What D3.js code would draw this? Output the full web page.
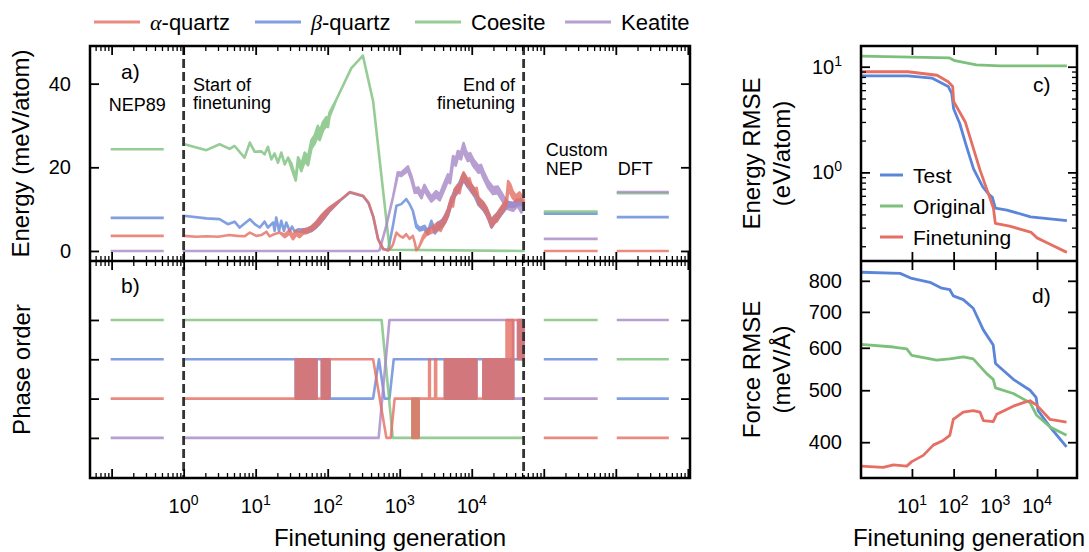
<!DOCTYPE html>
<html>
<head>
<meta charset="utf-8">
<title>NEP finetuning</title>
<style>
  body { margin: 0; background: #fff; }
  text { font-family: 'Liberation Sans', Arial, sans-serif; fill: #000; }
</style>
</head>
<body>
<svg width="1089" height="552"></svg>
<script src="https://d3js.org/d3.v7.min.js"></script>
<script>
// ---------------- data ----------------
const phases = ['-quartz', '-quartz', 'Coesite', 'Keatite'];
const phaseGreek = ['\u03b1', '\u03b2', '', ''];
const phaseColors = ['#e66f63', '#6388da', '#7cc07c', '#a788c7'];

// energy during finetuning: [generation, meV/atom, half-width of noise band]
const alphaEnergy = [[1,3.6,0],[1.5,3.4,0],[2.1,3.5,0],[3,3.4,0],[4.3,3.8,0],[5.5,3.6,0],[7,3.5,0],[8.3,4.4,0],[10.2,3.6,0],[12,3.8,0],[14.1,4.6,0],[15.6,3.5,0],[18,4.0,0],[21.5,4.4,0],[25.3,3.6,0.3],[29.7,4.6,0.4],[33,3.2,0.4],[36.6,4.4,0.5],[40.8,3.8,0.5],[45.4,4.6,0.5],[52,4.8,0.5],[60,5.4,0.5],[70,6.4,0.6],[80,7.6,0.7],[92,8.8,0.6],[106,10.0,0.4],[150,12.2,0],[203,14.1,0],[310,13.2,0],[370,11.5,0],[430,8.2,0],[500,2.9,0],[590,0.5,0],[690,0.1,0],[760,0.8,0],[805,1.5,0],[900,4.4,0],[1000,3.6,0],[1110,3.2,0],[1230,4.0,0],[1370,2.9,0],[1520,3.6,0],[1620,2.0,0],[1700,0.2,0],[1800,0.6,0],[1900,1.3,0],[2100,3.2,0.3],[2360,4.4,0.5],[2650,4.8,0.6],[2930,5.2,0.7],[3400,6.0,0.8],[3700,5.6,0.8],[3960,6.8,0.8],[4300,7.6,0.8],[4660,9.2,0.8],[5200,12.0,0.8],[5500,11.4,0.8],[5800,14.0,0.8],[6400,15.0,0.8],[6800,14.6,0.8],[7100,16.5,0.8],[7700,18.0,0.8],[8300,17.0,0.8],[8800,16.3,0.8],[9300,16.6,0.8],[9800,15.2,0.8],[11000,14.0,0.8],[11700,14.3,0.8],[12400,12.0,0.8],[14500,10.8,0.8],[16000,9.6,0.8],[17500,8.0,0.8],[18800,6.5,0.8],[20700,7.6,0.8],[22500,7.9,0.8],[24500,9.2,0.8],[28500,10.8,0.8],[30500,12.0,0.8],[32000,15.5,1.2],[34000,15.0,1.0],[37000,13.5,0.8],[41000,12.5,0.7],[46000,13.2,0.8],[52500,11.8,0.5]];
const betaEnergy = [[1,8.4,0],[2.07,7.8,0],[3.16,7.6,0],[4.1,6.4,0],[5.1,7.0,0],[6.0,5.6,0],[8.3,7.6,0],[9.7,6.4,0],[11.4,5.6,0],[13.3,7.0,0],[14.8,5.6,0],[17.5,6.8,0],[18.3,4.8,0],[19.3,8.0,0],[21.1,4.8,0],[22.7,7.2,0],[24.7,4.8,0],[26.6,6.8,0],[29.7,4.8,0],[32,5.8,0],[34.7,4.6,0],[38.8,5.0,0.2],[45.4,4.8,0.3],[52,4.9,0.4],[60,5.3,0.5],[70,6.3,0.6],[80,7.5,0.7],[92,8.7,0.6],[106,9.9,0.4],[150,12.1,0],[203,14.0,0],[310,13.1,0],[370,11.4,0],[430,8.1,0],[500,2.8,0],[590,0.4,0],[690,0.2,0],[805,6.0,0],[900,10.8,0],[1050,11.2,0],[1230,12.4,0],[1370,11.2,0],[1520,9.6,0],[1700,6.0,0.3],[1900,5.2,0.3],[2200,5.6,0.4],[2470,4.4,0.4],[2750,6.8,0.4],[3080,4.6,0.4],[3400,5.9,0.8],[3960,6.7,0.8],[4660,9.0,0.8],[5200,11.8,0.8],[5800,13.8,0.8],[6400,14.8,0.8],[7100,16.3,0.8],[7700,17.7,0.8],[8300,16.8,0.8],[8800,16.1,0.8],[9800,15.0,0.8],[11000,13.8,0.8],[12400,11.8,0.8],[14500,10.6,0.8],[16000,9.4,0.8],[17500,7.9,0.8],[18800,6.4,0.8],[20700,7.5,0.8],[24500,9.0,0.8],[28500,10.5,0.8],[32000,11.2,0.5],[37000,11.0,0.5],[44500,11.5,0.5],[48000,11.8,0.6],[52500,11.2,0.5]];
const coesiteEnergy = [[1,25.6,0],[2.07,24.1,0],[3.16,25.5,0],[4.35,24.4,0],[5.1,25.1,0],[7.0,22.3,0],[8.3,25.9,0],[9.7,23.7,0],[12,23.8,0],[13.3,23.1,0],[14.8,24.9,0],[16.5,21.9,0],[18.3,23.3,0],[20.4,21.1,0],[22.7,23.5,0],[25.3,20.7,0],[28.2,22.3,0],[31.4,20.3,0.5],[36,17.1,0.3],[38.8,21.9,0.5],[43,19.9,0.8],[48,22.5,1],[53.4,21.5,1],[59.5,25.5,1],[66,26.7,1],[73,28.7,1.2],[77.4,27.5,1],[86,29.8,1],[95.7,31,1],[101,30.4,0.8],[106,32.6,0.5],[132,36.2,0],[213,43.7,0],[308,46.7,0],[427,35.8,0],[725,0.3,0],[52500,0,0]];
const keatiteEnergy = [[1,0,0],[500,0,0],[525,0.2,0],[650,6.0,0],[810,13,0],[940,18.5,0.3],[1050,18.3,0.4],[1300,19.7,0.5],[1450,17.5,0.5],[1620,14.4,0.5],[1800,14.6,0.6],[2000,13.2,0.6],[2200,15.2,0.6],[2470,13.6,0.6],[2750,12.4,0.6],[3200,13.6,0.7],[3600,12.8,0.7],[4100,15.2,0.8],[4660,17.5,0.8],[5000,17.0,0.8],[5500,21.9,0.8],[6000,21.2,0.8],[6400,23.1,0.8],[7100,22.7,0.8],[7700,25.0,0.8],[8200,23.4,0.8],[8800,22.3,0.8],[9500,22.6,0.8],[10500,21.1,0.8],[12400,19.5,0.8],[13400,19.8,0.8],[14500,18.3,0.8],[16800,16.0,0.8],[19700,14.4,0.8],[23000,14.6,0.8],[27300,12.4,0.8],[32000,10.8,0.8],[37500,10.4,0.8],[43000,11.6,0.8],[49000,10.0,0.8],[52500,10.8,0.5]];

// phase order (energy rank) during finetuning: [generation, low rank, high rank]
const alphaRank = [[1,1,1],[36,1,1],[36,1,2],[47,1,2],[47,1,1],[49,1,1],[49,1,2],[70,1,2],[70,1,1],[83,1,1],[83,1,2],[106,1,2],[106,2,2],[427,2,2],[653,0,0],[750,0,0],[850,1,1],[1500,1,1],[1500,0,1],[1830,0,1],[1830,1,1],[2560,1,1],[2560,2,2],[2620,2,2],[2620,1,1],[3100,1,1],[3100,2,2],[3200,2,2],[3200,1,1],[4240,1,1],[4240,1,2],[4950,1,2],[4950,1,1],[5190,1,1],[5190,1,2],[11600,1,2],[11600,1,1],[14500,1,1],[14500,1,2],[30400,1,2],[30400,1,3],[37500,1,3],[37500,3,3],[44000,3,3],[44000,2,3],[52500,2,3]];
const betaRank = [[1,2,2],[36,2,2],[36,1,2],[47,1,2],[47,2,2],[49,2,2],[49,1,2],[70,1,2],[70,2,2],[83,2,2],[83,1,2],[106,1,2],[106,1,1],[427,1,1],[515,2,2],[615,1,1],[720,1,1],[825,2,2],[4240,2,2],[4240,1,2],[4950,1,2],[4950,2,2],[5190,2,2],[5190,1,2],[11600,1,2],[11600,2,2],[14500,2,2],[14500,1,2],[37500,1,2],[37500,2,2],[44000,2,2],[44000,2,3],[52500,2,3]];
const coesiteRank = [[1,3,3],[560,3,3],[800,0,0],[1500,0,0],[1500,0,1],[1830,0,1],[1830,0,0],[52500,0,0]];
const keatiteRank = [[1,0,0],[510,0,0],[720,3,3],[37500,3,3],[37500,1,1],[52500,1,1]];

// reference models, placed on the generation axis: [from, to]
const refModels = ['NEP89', 'Custom NEP', 'DFT'];
const refGen = [[0.097, 0.53], [1.0e5, 5.6e5], [1.03e6, 5.45e6]];
// per phase: alpha, beta, coesite, keatite
const nep89Energy = [3.6, 7.9, 24.3, 0];
const customEnergy = [0, 8.9, 9.4, 2.9];
const dftEnergy = [0, 8.1, 13.8, 14.1];
const nep89Rank = [1, 2, 3, 0];
const customRank = [0, 2, 3, 1];
const dftRank = [0, 1, 2, 3];

const finetuneStart = 1, finetuneEnd = 52500;

// RMSE panels: [generation, value]
const rmseSeries = ['Test', 'Original', 'Finetuning'];
const rmseColors = ['#5a85d8', '#7cc07c', '#e66f63'];
const testEnergyRmse = [[0.6,8.2],[8,8.2],[30,7.8],[74,6.5],[90,5.6],[100,4.0],[140,2.9],[200,1.8],[300,1.08],[500,0.73],[700,0.62],[850,0.58],[1000,0.46],[1900,0.44],[7000,0.38],[52000,0.35]];
const originalEnergyRmse = [[0.6,12.6],[80,12.1],[107,11.4],[350,10.4],[1300,10.2],[52000,10.2]];
const finetuneEnergyRmse = [[0.6,8.96],[8,8.96],[40,8.3],[74,7.2],[95,6.5],[100,4.7],[190,3.0],[430,1.05],[900,0.46],[1000,0.33],[2200,0.31],[7300,0.27],[10000,0.24],[20000,0.21],[52000,0.175]];
const testForceRmse = [[0.6,830],[5.2,826],[9.9,808],[27,795],[52,775],[81,770],[98,750],[170,738],[295,711],[515,648],[890,607],[1010,561],[2700,524],[6800,500],[9500,485],[10600,458],[20600,427],[51000,392]];
const originalForceRmse = [[0.6,609],[3.6,602],[7.5,597],[9.9,581],[39,569],[81,572],[170,577],[295,572],[620,537],[890,524],[1010,505],[2700,493],[6800,474],[9800,449],[20600,427],[51000,412]];
const finetuneForceRmse = [[0.6,361],[2.05,359],[3.6,363],[7.5,361],[9.9,368],[18.7,378],[32.5,395],[56,403],[81,412],[98,441],[170,455],[295,458],[430,455],[515,439],[890,437],[1080,451],[2700,467],[4700,474],[6800,478],[9800,469],[20600,441],[51000,436]];

// ticks
const energyTicks = [0, 20, 40];
const rankTicks = [0, 1, 2, 3];
const genLabelExp = [0, 1, 2, 3, 4];
const rmseGenExp = [1, 2, 3, 4];
const energyRmseExp = [0, 1];
const forceTicks = [400, 500, 600, 700, 800];

// ---------------- layout ----------------
const svg = d3.select('svg');
const L = { x0: 90, x1: 690, top: 46, mid: 261, bot: 478 };
const R = { x0: 861, x1: 1077, top: 46, mid: 261, bot: 478 };

const x = d3.scaleLog().domain([Math.pow(10, -1.3), Math.pow(10, 7.03)]).range([L.x0, L.x1]);
const ya = d3.scaleLinear().domain([-2.4, 49]).range([L.mid, L.top]);
const yb = d3.scaleLinear().domain([-1.02, 4.5]).range([L.bot, L.mid]);
const xc = d3.scaleLog().domain([0.6, 91000]).range([R.x0, R.x1]);
const yc = d3.scaleLog().domain([0.145, 15.7]).range([R.mid, R.top]);
const yd = d3.scaleLog().domain([343, 871]).range([R.bot, R.mid]);

function decadeTicks(scale, major) {
  const [a, b] = scale.domain(), out = [];
  for (let e = Math.floor(Math.log10(a)); e <= Math.ceil(Math.log10(b)); e++) {
    for (let k = 1; k <= 9; k++) {
      const v = k * Math.pow(10, e);
      if (v >= a && v <= b && (k === 1) === major) out.push(v);
    }
  }
  return out;
}

function tickAxis(axisFn, scale, values, size, transform, width) {
  const g = svg.append('g').attr('transform', transform)
    .call(axisFn(scale).tickValues(values).tickSize(-size).tickFormat(''));
  g.select('.domain').remove();
  g.selectAll('.tick line').attr('stroke', '#000').attr('stroke-width', width);
}

function powText(sel, exp) {
  sel.text('10');
  sel.append('tspan').attr('dy', -8).attr('font-size', 14).text(exp);
}

// ---------------- panels a, b: energies and phase order ----------------
const bandA = d3.area().x(d => x(d[0])).y0(d => ya(d[1] - d[2])).y1(d => ya(d[1] + d[2]));
const bandB = d3.area().x(d => x(d[0])).y0(d => yb(d[1])).y1(d => yb(d[2]));

const energySets = [alphaEnergy, betaEnergy, coesiteEnergy, keatiteEnergy];
const rankSets = [alphaRank, betaRank, coesiteRank, keatiteRank];
const drawOrder = [1, 2, 3, 0];

const refEnergy = [nep89Energy, customEnergy, dftEnergy];
const refRank = [nep89Rank, customRank, dftRank];

drawOrder.forEach(p => {
  svg.append('path').datum(energySets[p]).attr('d', bandA)
    .attr('fill', phaseColors[p]).attr('stroke', phaseColors[p])
    .attr('stroke-width', 2.6).attr('stroke-linejoin', 'round').attr('opacity', 0.8);
  svg.append('path').datum(rankSets[p]).attr('d', bandB)
    .attr('fill', phaseColors[p]).attr('stroke', phaseColors[p])
    .attr('stroke-width', 2.6).attr('stroke-linejoin', 'round').attr('opacity', 0.8);
  refGen.forEach((span, m) => {
    svg.append('line')
      .attr('x1', x(span[0])).attr('x2', x(span[1]))
      .attr('y1', ya(refEnergy[m][p])).attr('y2', ya(refEnergy[m][p]))
      .attr('stroke', phaseColors[p]).attr('stroke-width', 2.6).attr('opacity', 0.8);
    svg.append('line')
      .attr('x1', x(span[0])).attr('x2', x(span[1]))
      .attr('y1', yb(refRank[m][p])).attr('y2', yb(refRank[m][p]))
      .attr('stroke', phaseColors[p]).attr('stroke-width', 2.6).attr('opacity', 0.8);
  });
});

// finetuning start / end markers
[finetuneStart, finetuneEnd].forEach(g => {
  svg.append('line').attr('x1', x(g)).attr('x2', x(g)).attr('y1', L.top).attr('y2', L.bot)
    .attr('stroke', '#333').attr('stroke-width', 2.8).attr('stroke-dasharray', '9,4');
});

// left frame + ticks
svg.append('rect').attr('x', L.x0).attr('y', L.top).attr('width', L.x1 - L.x0).attr('height', L.bot - L.top)
  .attr('fill', 'none').attr('stroke', '#000').attr('stroke-width', 2.5);
svg.append('line').attr('x1', L.x0).attr('x2', L.x1).attr('y1', L.mid).attr('y2', L.mid)
  .attr('stroke', '#000').attr('stroke-width', 2.5);

const xMaj = decadeTicks(x, true), xMin = decadeTicks(x, false);
[[d3.axisTop, L.top], [d3.axisBottom, L.mid], [d3.axisTop, L.mid], [d3.axisBottom, L.bot]].forEach(([fn, y]) => {
  tickAxis(fn, x, xMaj, 9, `translate(0,${y})`, 1.8);
  tickAxis(fn, x, xMin, 5, `translate(0,${y})`, 1.3);
});
tickAxis(d3.axisLeft, ya, energyTicks, 9, `translate(${L.x0},0)`, 1.8);
tickAxis(d3.axisRight, ya, energyTicks, 9, `translate(${L.x1},0)`, 1.8);
tickAxis(d3.axisLeft, yb, rankTicks, 9, `translate(${L.x0},0)`, 1.8);
tickAxis(d3.axisRight, yb, rankTicks, 9, `translate(${L.x1},0)`, 1.8);

svg.selectAll('.ya-label').data(energyTicks).enter().append('text')
  .attr('x', L.x0 - 19).attr('y', d => ya(d)).attr('dy', '0.35em')
  .attr('text-anchor', 'end').attr('font-size', 20).text(d => d);

svg.selectAll('.xa-label').data(genLabelExp).enter().append('text')
  .attr('x', d => x(Math.pow(10, d))).attr('y', 513)
  .attr('text-anchor', 'middle').attr('font-size', 20)
  .each(function(d) { powText(d3.select(this), d); });

// annotations
function note(xp, yp, str, anchor, size) {
  svg.append('text').attr('x', xp).attr('y', yp).attr('text-anchor', anchor || 'start')
    .attr('font-size', size || 18).text(str);
}
note(121, 79, 'a)', 'start', 21);
note(121, 293, 'b)', 'start', 21);
note(x(Math.sqrt(refGen[0][0] * refGen[0][1])), 111, refModels[0], 'middle');
note(193, 91, 'Start of');
note(193, 109, 'finetuning');
note(515, 91, 'End of', 'end');
note(515, 109, 'finetuning', 'end');
note(x(refGen[1][0]) + 2, 156, refModels[1].split(' ')[0]);
note(x(refGen[1][0]) + 2, 175, refModels[1].split(' ')[1]);
note(x(refGen[2][0]) + 1, 175, refModels[2]);

svg.append('text').attr('transform', `translate(29,${(L.top + L.mid) / 2}) rotate(-90)`)
  .attr('text-anchor', 'middle').attr('font-size', 24).text('Energy (meV/atom)');
svg.append('text').attr('transform', `translate(30,${(L.mid + L.bot) / 2}) rotate(-90)`)
  .attr('text-anchor', 'middle').attr('font-size', 24).text('Phase order');
svg.append('text').attr('x', (L.x0 + L.x1) / 2).attr('y', 546)
  .attr('text-anchor', 'middle').attr('font-size', 24).text('Finetuning generation');

// top legend
const legX = [94, 255, 415, 565];
phases.forEach((name, i) => {
  svg.append('line').attr('x1', legX[i]).attr('x2', legX[i] + 46).attr('y1', 22).attr('y2', 22)
    .attr('stroke', phaseColors[i]).attr('stroke-width', 3).attr('opacity', 0.8);
  const t = svg.append('text').attr('x', legX[i] + 56).attr('y', 30).attr('font-size', 22);
  if (phaseGreek[i]) {
    t.append('tspan').attr('font-family', "'Liberation Serif', serif").attr('font-style', 'italic').text(phaseGreek[i]);
  }
  t.append('tspan').text(name);
});

// ---------------- panels c, d: RMSE ----------------
const lineC = d3.line().x(d => xc(d[0])).y(d => yc(d[1]));
const lineD = d3.line().x(d => xc(d[0])).y(d => yd(d[1]));
[testEnergyRmse, originalEnergyRmse, finetuneEnergyRmse].forEach((s, i) => {
  svg.append('path').datum(s).attr('d', lineC).attr('fill', 'none')
    .attr('stroke', rmseColors[i]).attr('stroke-width', 2.8).attr('stroke-linejoin', 'round');
});
[testForceRmse, originalForceRmse, finetuneForceRmse].forEach((s, i) => {
  svg.append('path').datum(s).attr('d', lineD).attr('fill', 'none')
    .attr('stroke', rmseColors[i]).attr('stroke-width', 2.8).attr('stroke-linejoin', 'round');
});

svg.append('rect').attr('x', R.x0).attr('y', R.top).attr('width', R.x1 - R.x0).attr('height', R.bot - R.top)
  .attr('fill', 'none').attr('stroke', '#000').attr('stroke-width', 2.5);
svg.append('line').attr('x1', R.x0).attr('x2', R.x1).attr('y1', R.mid).attr('y2', R.mid)
  .attr('stroke', '#000').attr('stroke-width', 2.5);

const xcMaj = rmseGenExp.map(e => Math.pow(10, e));
[[d3.axisTop, R.top], [d3.axisBottom, R.mid], [d3.axisTop, R.mid], [d3.axisBottom, R.bot]].forEach(([fn, y]) => {
  tickAxis(fn, xc, xcMaj, 9, `translate(0,${y})`, 1.8);
});
const ycMaj = decadeTicks(yc, true), ycMin = decadeTicks(yc, false);
tickAxis(d3.axisLeft, yc, ycMaj, 9, `translate(${R.x0},0)`, 1.8);
tickAxis(d3.axisLeft, yc, ycMin, 5, `translate(${R.x0},0)`, 1.3);
tickAxis(d3.axisRight, yc, ycMaj, 9, `translate(${R.x1},0)`, 1.8);
tickAxis(d3.axisRight, yc, ycMin, 5, `translate(${R.x1},0)`, 1.3);
tickAxis(d3.axisLeft, yd, forceTicks, 9, `translate(${R.x0},0)`, 1.8);
tickAxis(d3.axisRight, yd, forceTicks, 9, `translate(${R.x1},0)`, 1.8);

svg.selectAll('.yc-label').data(energyRmseExp).enter().append('text')
  .attr('x', R.x0 - 19).attr('y', d => yc(Math.pow(10, d))).attr('dy', '0.35em')
  .attr('text-anchor', 'end').attr('font-size', 20)
  .each(function(d) { powText(d3.select(this), d); });
svg.selectAll('.yd-label').data(forceTicks).enter().append('text')
  .attr('x', R.x0 - 19).attr('y', d => yd(d)).attr('dy', '0.35em')
  .attr('text-anchor', 'end').attr('font-size', 20).text(d => d);
svg.selectAll('.xc-label').data(rmseGenExp).enter().append('text')
  .attr('x', d => xc(Math.pow(10, d))).attr('y', 513)
  .attr('text-anchor', 'middle').attr('font-size', 20)
  .each(function(d) { powText(d3.select(this), d); });

// legend inside panel c
rmseSeries.forEach((name, i) => {
  const yy = 175 + i * 31;
  svg.append('line').attr('x1', 880).attr('x2', 903).attr('y1', yy).attr('y2', yy)
    .attr('stroke', rmseColors[i]).attr('stroke-width', 3);
  svg.append('text').attr('x', 913).attr('y', yy + 8).attr('font-size', 21).text(name);
});
note(1033, 92, 'c)', 'start', 21);
note(1032, 303, 'd)', 'start', 21);

function twoLine(cx, cy, l1, l2) {
  const t = svg.append('text').attr('transform', `translate(${cx},${cy}) rotate(-90)`)
    .attr('text-anchor', 'middle').attr('font-size', 24);
  t.append('tspan').attr('x', 0).attr('y', 0).text(l1);
  t.append('tspan').attr('x', 0).attr('y', 30).text(l2);
}
twoLine(760, (R.top + R.mid) / 2, 'Energy RMSE', '(eV/atom)');
twoLine(760, (R.mid + R.bot) / 2, 'Force RMSE', '(meV/\u00c5)');
svg.append('text').attr('x', (R.x0 + R.x1) / 2).attr('y', 546)
  .attr('text-anchor', 'middle').attr('font-size', 24).text('Finetuning generation');
</script>
</body>
</html>
